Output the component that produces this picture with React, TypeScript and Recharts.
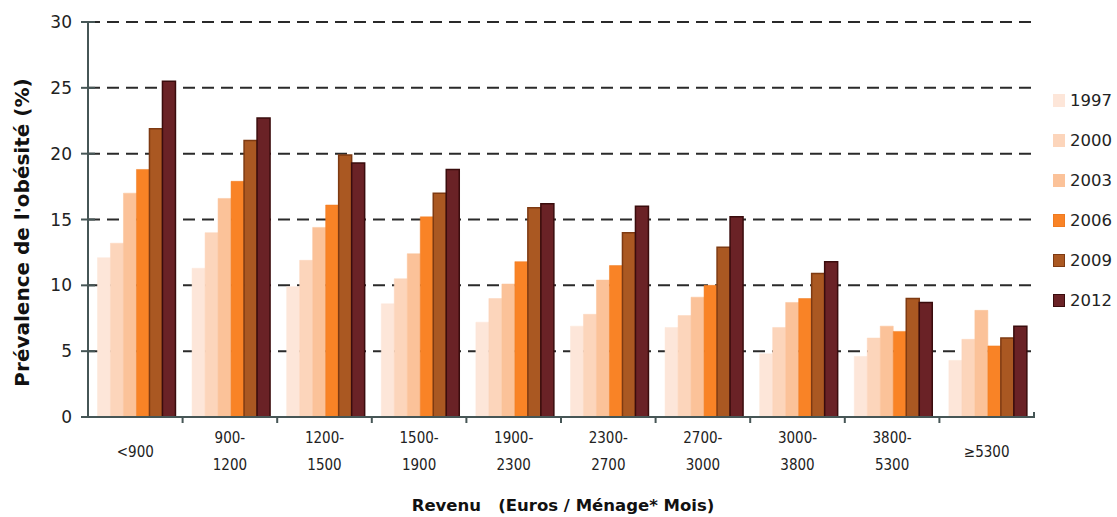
import React from 'react';
import { BarChart, Bar, XAxis, YAxis, CartesianGrid } from 'recharts';

// income brackets (euros per household per month)
const brackets = ['<900', '900-1200', '1200-1500', '1500-1900', '1900-2300', '2300-2700', '2700-3000', '3000-3800', '3800-5300', '≥5300'];

const years = ['1997', '2000', '2003', '2006', '2009', '2012'];

// obesity prevalence (%) per bracket, one array per survey year
const y1997 = [12.1, 11.3, 9.9, 8.6, 7.2, 6.9, 6.8, 4.8, 4.6, 4.3];
const y2000 = [13.2, 14.0, 11.9, 10.5, 9.0, 7.8, 7.7, 6.8, 6.0, 5.9];
const y2003 = [17.0, 16.6, 14.4, 12.4, 10.1, 10.4, 9.1, 8.7, 6.9, 8.1];
const y2006 = [18.8, 17.9, 16.1, 15.2, 11.8, 11.5, 10.0, 9.0, 6.5, 5.4];
const y2009 = [21.9, 21.0, 19.9, 17.0, 15.9, 14.0, 12.9, 10.9, 9.0, 6.0];
const y2012 = [25.5, 22.7, 19.3, 18.8, 16.2, 16.0, 15.2, 11.8, 8.7, 6.9];

const yTicks = [0, 5, 10, 15, 20, 25, 30];

const fills = ['#fde6d9', '#fcd5bb', '#fbc299', '#f98326', '#aa5822', '#6a2226'];
const strokes = ['#fde6d9', '#fcd5bb', '#fbc299', '#ee7a20', '#7e3a12', '#3a0c0d'];

const series = [y1997, y2000, y2003, y2006, y2009, y2012];
const data = brackets.map((b, i) => {
  const row: Record<string, string | number> = { bracket: b };
  years.forEach((yr, k) => {
    row['y' + yr] = series[k][i];
  });
  return row;
});

const W = 1117;
const H = 517;
const TOP = 22;
const AXIS_X = 88;
const PLOT_RIGHT = 1034;
const AXIS_Y = 417;
const BAND = (PLOT_RIGHT - AXIS_X) / brackets.length;
const AXIS_COLOR = '#465656';
const FONT = '"DejaVu Sans", Verdana, sans-serif';
const NARROW = '"DejaVu Sans Condensed", ' + FONT;

const YTick = ({ y, payload }: any) => (
  <g>
    <line x1={AXIS_X - 7} x2={AXIS_X + 7} y1={y} y2={y} stroke={AXIS_COLOR} strokeWidth={2} />
    <text x={AXIS_X - 16} y={y} dy={6} textAnchor="end" fontSize={17} fill="#222" fontFamily={FONT}>
      {payload.value}
    </text>
  </g>
);

const XTick = ({ x, payload, index }: any) => {
  const label: string = payload.value;
  const dash = label.indexOf('-');
  const lines = dash > 0 ? [label.slice(0, dash + 1), label.slice(dash + 1)] : [label];
  const left = x - BAND / 2;
  const textProps = { textAnchor: 'middle' as const, fontSize: 15, fill: '#222', fontFamily: NARROW };
  return (
    <g>
      {index > 0 && <line x1={left} x2={left} y1={AXIS_Y} y2={AXIS_Y + 6} stroke={AXIS_COLOR} strokeWidth={2} />}
      {index === brackets.length - 1 && (
        <line x1={x + BAND / 2} x2={x + BAND / 2} y1={AXIS_Y - 5} y2={AXIS_Y + 1} stroke={AXIS_COLOR} strokeWidth={2} />
      )}
      {lines.length === 2 ? (
        <>
          <text x={x} y={AXIS_Y + 26} {...textProps}>{lines[0]}</text>
          <text x={x} y={AXIS_Y + 53} {...textProps}>{lines[1]}</text>
        </>
      ) : (
        <text x={x} y={AXIS_Y + 40} {...textProps}>{lines[0]}</text>
      )}
    </g>
  );
};

const XTitle = ({ viewBox }: any) => {
  const cx = viewBox.x + viewBox.width / 2;
  return (
    <text x={cx + 2} y={H - 6} textAnchor="middle" fontSize={16.5} fontWeight="bold" fill="#111" fontFamily={FONT}>
      {'Revenu\u00a0\u00a0\u00a0(Euros / Ménage* Mois)'}
    </text>
  );
};

const YTitle = ({ viewBox }: any) => {
  const cy = viewBox.y + viewBox.height / 2 + 13;
  const cx = 22;
  return (
    <text
      x={cx}
      y={cy}
      transform={`rotate(-90 ${cx} ${cy})`}
      dy={7}
      textAnchor="middle"
      fontSize={20}
      fontWeight="bold"
      fill="#111"
      fontFamily={FONT}
    >
      Prévalence de l'obésité (%)
    </text>
  );
};

const YearLegend = () => (
  <div style={{ position: 'absolute', left: 1053, top: 80, fontFamily: FONT, fontSize: 16.5, color: '#222' }}>
    {years.map((yr, k) => (
      <div key={yr} style={{ display: 'flex', alignItems: 'center', height: 40 }}>
        <span
          style={{
            display: 'inline-block',
            width: 10,
            height: 11,
            background: fills[k],
            border: `1px solid ${strokes[k]}`,
            marginRight: 5,
          }}
        />
        {yr}
      </div>
    ))}
  </div>
);

export default function App() {
  return (
    <div style={{ position: 'fixed', left: 0, top: 0, width: W, height: H, background: '#fff', overflow: 'hidden' }}>
      <BarChart
        width={W}
        height={H}
        data={data}
        margin={{ top: TOP, right: W - PLOT_RIGHT, bottom: 0, left: 0 }}
        barCategoryGap="10%"
        barGap={0}
      >
        <CartesianGrid vertical={false} stroke="#2a2a2a" strokeWidth={2} strokeDasharray="12 7" />
        <XAxis
          dataKey="bracket"
          height={H - AXIS_Y}
          tickLine={false}
          axisLine={{ stroke: AXIS_COLOR, strokeWidth: 2 }}
          tick={<XTick />}
          interval={0}
          label={{ content: <XTitle /> }}
        />
        <YAxis
          width={AXIS_X}
          domain={[0, 30]}
          ticks={yTicks}
          interval={0}
          tickLine={false}
          axisLine={{ stroke: AXIS_COLOR, strokeWidth: 2 }}
          tick={<YTick />}
          label={{ content: <YTitle /> }}
        />
        {years.map((yr, k) => (
          <Bar
            key={yr}
            dataKey={'y' + yr}
            name={yr}
            fill={fills[k]}
            stroke={strokes[k]}
            strokeWidth={k >= 4 ? 1.5 : 0.5}
            isAnimationActive={false}
          />
        ))}
      </BarChart>
      <YearLegend />
    </div>
  );
}
